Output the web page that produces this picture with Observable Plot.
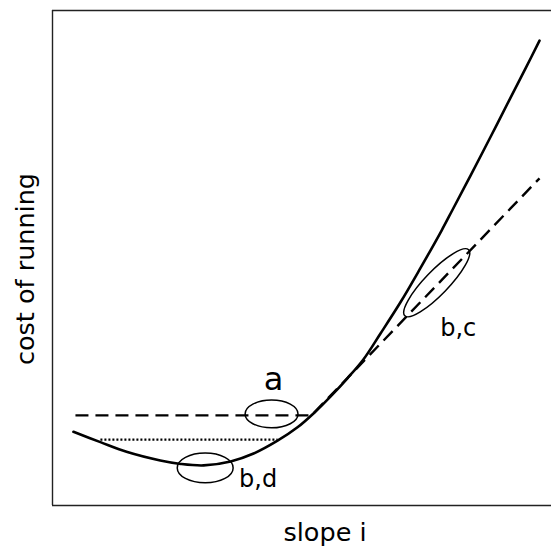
<!DOCTYPE html>
<html><head><meta charset="utf-8">
<script src="https://cdn.jsdelivr.net/npm/d3@7"></script>
<script src="https://cdn.jsdelivr.net/npm/@observablehq/plot@0.6"></script>
<style>body{margin:0;background:#fff;} #chart svg{display:block;}</style>
</head><body><div id="chart"></div>
<script>
// cost of running curve (solid)
const costX = [4.2, 9.6, 15.0, 21.6, 25.7, 30.3, 35.7, 40.3, 45.1, 49.1, 52.3, 55.7, 59.1, 62.3, 65.7, 69.7, 73.7, 78.0, 80.2, 83.8, 87.8, 91.8, 94.8, 97.6];
const costY = [14.9, 12.8, 10.8, 9.1, 8.4, 8.1, 8.9, 10.5, 13.1, 15.8, 18.6, 22.0, 25.7, 29.5, 34.7, 41.0, 47.9, 55.6, 59.8, 66.7, 74.5, 82.4, 88.3, 93.9];
// dashed asymptote
const asymX = [4.6, 51.9, 97.6];
const asymY = [18.2, 18.2, 66.1];
// dotted level
const dotX = [9.6, 45.1];
const dotY = [13.3, 13.3];
// ellipses and labels
const ellLabels = ["a", "b,d", "b,c"];
const ellCX = [44.0, 30.7, 77.1];
const ellCY = [18.4, 7.5, 44.9];
const ellRX = [5.3, 5.6, 9.2];
const ellRY = [2.8, 3.0, 2.4];
const ellAngle = [0, 0, -46];
const labX = [44.3, 41.2, 81.3];
const labY = [25.5, 5.2, 35.7];
const labSize = [32, 24, 24];
const xTitle = "slope i";
const yTitle = "cost of running";

const curve = costX.map((x, i) => ({x, y: costY[i]}));
const asym = asymX.map((x, i) => ({x, y: asymY[i]}));
const dots = dotX.map((x, i) => ({x, y: dotY[i]}));
const ells = ellLabels.map((t, i) => ({t, cx: ellCX[i], cy: ellCY[i], rx: ellRX[i], ry: ellRY[i], a: ellAngle[i], lx: labX[i], ly: labY[i], s: labSize[i]}));

const font = "DejaVu Sans, Liberation Sans, sans-serif";

function ellipseMark(index, scales) {
  const g = d3.create("svg:g");
  for (const e of ells) {
    const cx = scales.x(e.cx), cy = scales.y(e.cy);
    const rx = Math.abs(scales.x(e.cx + e.rx) - cx);
    const ry = Math.abs(scales.y(e.cy + e.ry) - cy);
    g.append("ellipse")
      .attr("cx", cx).attr("cy", cy).attr("rx", rx).attr("ry", ry)
      .attr("transform", `rotate(${e.a},${cx},${cy})`)
      .attr("fill", "none").attr("stroke", "#000").attr("stroke-width", 1.5);
  }
  return g.node();
}

const chart = Plot.plot({
  width: 551,
  height: 548,
  marginLeft: 52,
  marginRight: 0,
  marginTop: 10,
  marginBottom: 43,
  style: {fontFamily: font, background: "#fff"},
  x: {domain: [0, 100], axis: null},
  y: {domain: [0, 100], axis: null},
  marks: [
    Plot.ruleX([0], {stroke: "#222", strokeWidth: 1.4}),
    Plot.ruleY([0, 100], {stroke: "#222", strokeWidth: 1.4}),
    Plot.line(dots, {x: "x", y: "y", stroke: "#000", strokeWidth: 2.2, strokeDasharray: "2,2", strokeLinecap: "butt"}),
    Plot.line(asym, {x: "x", y: "y", stroke: "#000", strokeWidth: 2.4, strokeDasharray: "13,7", strokeLinecap: "butt"}),
    Plot.line(curve, {x: "x", y: "y", stroke: "#000", strokeWidth: 2.6, curve: "catmull-rom"}),
    ellipseMark,
    Plot.text(ells, {x: "lx", y: "ly", text: "t", fontSize: "s", fill: "#000", lineAnchor: "middle"}),
    Plot.text([xTitle], {frameAnchor: "bottom", textAnchor: "middle", dx: 23, dy: 35, fontSize: 25.5, fill: "#000"}),
    Plot.text([yTitle], {frameAnchor: "left", textAnchor: "middle", lineAnchor: "middle", dx: -27, dy: 11, rotate: -90, fontSize: 25.5, fill: "#000"})
  ]
});
document.getElementById("chart").append(chart);
</script>
</body></html>
